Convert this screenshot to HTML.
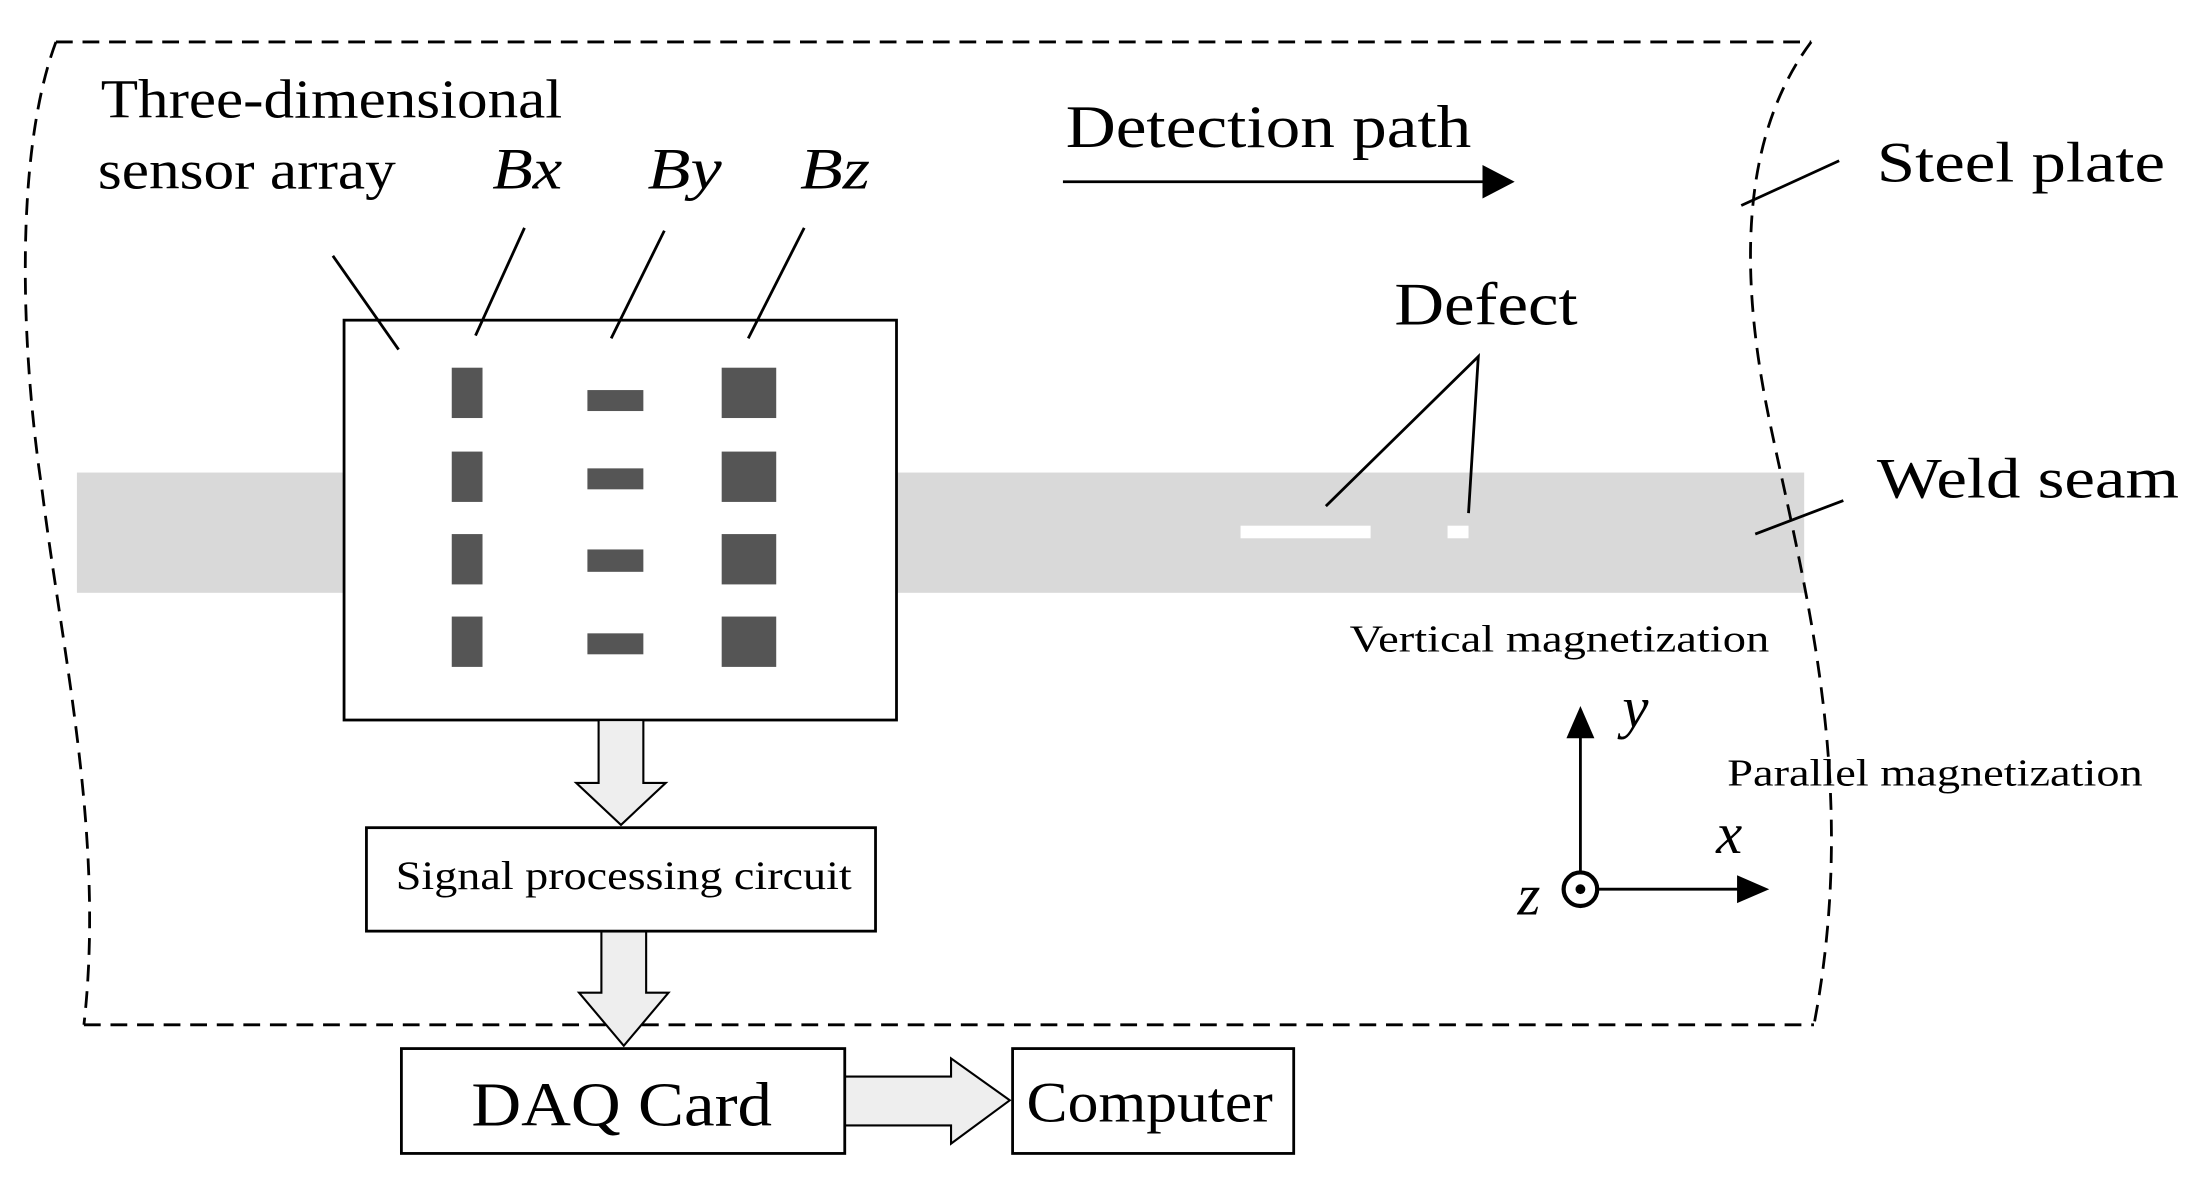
<!DOCTYPE html>
<html><head><meta charset="utf-8"><style>
html,body{margin:0;padding:0;background:#fff;}
svg{display:block;}
text{font-family:"Liberation Serif",serif;fill:#000;}
</style></head><body>
<svg width="2193" height="1180" viewBox="0 0 1568 844" preserveAspectRatio="none" xmlns="http://www.w3.org/2000/svg">
<rect x="55" y="338" width="1235" height="86" fill="#d9d9d9"/>
<g fill="none" stroke="#000" stroke-width="2" stroke-dasharray="12,7">
<path d="M40,30 L1295,30"/>
<path d="M60,733 L1297,733"/>
<path d="M40,30 C10,110 15,250 30,350 C45,470 75,600 60,733"/>
<path d="M1295,30 C1250,90 1240,180 1265,300 C1290,420 1330,560 1297,733"/>
</g>
<rect x="246" y="229" width="395" height="286" fill="#fff" stroke="#000" stroke-width="2"/>
<g fill="#555">
<rect x="323" y="263" width="22" height="36"/><rect x="323" y="323" width="22" height="36"/>
<rect x="323" y="382" width="22" height="36"/><rect x="323" y="441" width="22" height="36"/>
<rect x="420" y="279" width="40" height="15"/><rect x="420" y="335" width="40" height="15"/>
<rect x="420" y="393" width="40" height="16"/><rect x="420" y="453" width="40" height="15"/>
<rect x="516" y="263" width="39" height="36"/><rect x="516" y="323" width="39" height="36"/>
<rect x="516" y="382" width="39" height="36"/><rect x="516" y="441" width="39" height="36"/>
</g>
<rect x="887" y="376" width="93" height="9" fill="#fff"/>
<rect x="1035" y="376" width="15" height="9" fill="#fff"/>
<g stroke="#000" stroke-width="2" fill="none">
<line x1="238" y1="183" x2="285" y2="250"/>
<line x1="375" y1="163" x2="340" y2="240"/>
<line x1="475" y1="165" x2="437" y2="242"/>
<line x1="575" y1="163" x2="535" y2="242"/>
<line x1="760" y1="130" x2="1060" y2="130"/>
<line x1="1245" y1="147" x2="1315" y2="115"/>
<polyline points="948,362 1057,255 1050,367"/>
<line x1="1255" y1="382" x2="1318" y2="358"/>
<line x1="1130" y1="624" x2="1130" y2="525"/>
<line x1="1142" y1="636" x2="1245" y2="636"/>
</g>
<polygon points="1060,118 1083,130 1060,142" fill="#000"/>
<polygon points="1120,528 1130,505 1140,528" fill="#000"/>
<polygon points="1242,626 1265,636 1242,646" fill="#000"/>
<circle cx="1130" cy="636" r="12" fill="#fff" stroke="#000" stroke-width="3"/>
<circle cx="1130" cy="636" r="3.5" fill="#000"/>
<g fill="#eee" stroke="#000" stroke-width="1.5">
<polygon points="428,515 460,515 460,560 476,560 444,590 412,560 428,560"/>
<polygon points="430,666 462,666 462,710 478,710 446,748 414,710 430,710"/>
<polygon points="604,770 680,770 680,757 722,787 680,818 680,805 604,805"/>
</g>
<rect x="262" y="592" width="364" height="74" fill="#fff" stroke="#000" stroke-width="2"/>
<rect x="287" y="750" width="317" height="75" fill="#fff" stroke="#000" stroke-width="2"/>
<rect x="724" y="750" width="201" height="75" fill="#fff" stroke="#000" stroke-width="2"/>
<g lengthAdjust="spacingAndGlyphs">
<text x="72" y="84" font-size="39" textLength="330" lengthAdjust="spacingAndGlyphs">Three-dimensional</text>
<text x="70" y="135" font-size="39" textLength="213" lengthAdjust="spacingAndGlyphs">sensor array</text>
<text x="352" y="135" font-size="42" font-style="italic" textLength="50" lengthAdjust="spacingAndGlyphs">Bx</text>
<text x="463" y="135" font-size="42" font-style="italic" textLength="53" lengthAdjust="spacingAndGlyphs">By</text>
<text x="572" y="135" font-size="42" font-style="italic" textLength="50" lengthAdjust="spacingAndGlyphs">Bz</text>
<text x="762" y="105" font-size="43" textLength="290" lengthAdjust="spacingAndGlyphs">Detection path</text>
<text x="1342" y="130" font-size="41" textLength="206" lengthAdjust="spacingAndGlyphs">Steel plate</text>
<text x="997" y="232" font-size="43" textLength="131" lengthAdjust="spacingAndGlyphs">Defect</text>
<text x="1342" y="356" font-size="41" textLength="216" lengthAdjust="spacingAndGlyphs">Weld seam</text>
<text x="965" y="466" font-size="27" textLength="300" lengthAdjust="spacingAndGlyphs">Vertical magnetization</text>
<text x="1235" y="562" font-size="27" textLength="297" lengthAdjust="spacingAndGlyphs">Parallel magnetization</text>
<text x="1160" y="520" font-size="42" font-style="italic">y</text>
<text x="1227" y="610" font-size="42" font-style="italic">x</text>
<text x="1085" y="654" font-size="42" font-style="italic">z</text>
<text x="283" y="636" font-size="29" textLength="326" lengthAdjust="spacingAndGlyphs">Signal processing circuit</text>
<text x="337" y="805" font-size="45" textLength="215" lengthAdjust="spacingAndGlyphs">DAQ Card</text>
<text x="734" y="802" font-size="41" textLength="176" lengthAdjust="spacingAndGlyphs">Computer</text>
</g>
</svg>
</body></html>
